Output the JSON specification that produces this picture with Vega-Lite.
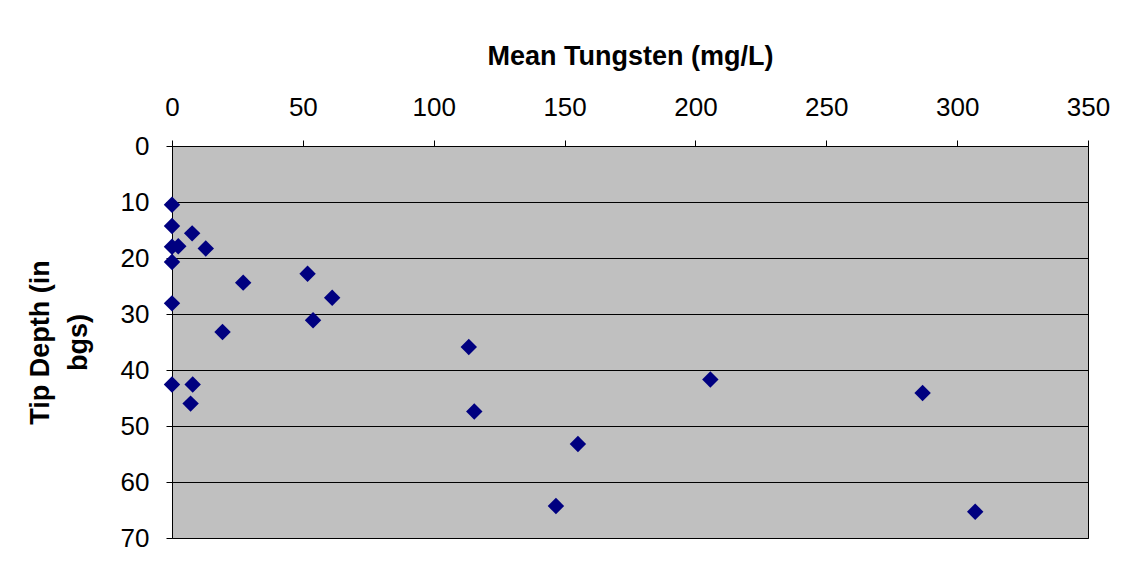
{
  "$schema": "https://vega.github.io/schema/vega-lite/v6.json",
  "width": 916,
  "height": 392,
  "autosize": "none",
  "padding": {"left": 172, "top": 146, "right": 39, "bottom": 40},
  "background": "white",
  "config": {
    "font": "Liberation Sans",
    "view": {"fill": "#C0C0C0", "stroke": "black", "strokeWidth": 1}
  },
  "data": {
    "values": [
      {"tungsten": 0, "depth": 10.5},
      {"tungsten": 0, "depth": 14.3},
      {"tungsten": 7.7, "depth": 15.6},
      {"tungsten": 0, "depth": 18.0},
      {"tungsten": 2.4, "depth": 17.9},
      {"tungsten": 12.9, "depth": 18.3},
      {"tungsten": 0, "depth": 20.7},
      {"tungsten": 27.2, "depth": 24.4},
      {"tungsten": 51.8, "depth": 22.8},
      {"tungsten": 0, "depth": 28.1},
      {"tungsten": 61.2, "depth": 27.1},
      {"tungsten": 53.9, "depth": 31.1},
      {"tungsten": 19.3, "depth": 33.2},
      {"tungsten": 0, "depth": 42.6},
      {"tungsten": 7.9, "depth": 42.6},
      {"tungsten": 7.1, "depth": 46.0},
      {"tungsten": 113.4, "depth": 35.9},
      {"tungsten": 115.5, "depth": 47.4},
      {"tungsten": 155.1, "depth": 53.2},
      {"tungsten": 146.7, "depth": 64.3},
      {"tungsten": 205.7, "depth": 41.7},
      {"tungsten": 286.8, "depth": 44.1},
      {"tungsten": 306.9, "depth": 65.3}
    ]
  },
  "mark": {"type": "point", "shape": "diamond", "filled": true, "color": "#000080", "opacity": 1, "size": 270, "clip": false},
  "encoding": {
    "x": {
      "field": "tungsten",
      "type": "quantitative",
      "scale": {"domain": [0, 350], "nice": false, "zero": false},
      "axis": {
        "orient": "top",
        "title": "Mean Tungsten (mg/L)",
        "titleFontSize": 27,
        "titleFontWeight": "bold",
        "titleColor": "black",
        "titlePadding": 24,
        "values": [0, 50, 100, 150, 200, 250, 300, 350],
        "labelFontSize": 26,
        "labelColor": "black",
        "labelPadding": 20,
        "labelFlush": false,
        "labelOverlap": false,
        "tickColor": "black",
        "tickSize": 6,
        "domain": false,
        "grid": false
      }
    },
    "y": {
      "field": "depth",
      "type": "quantitative",
      "scale": {"domain": [0, 70], "reverse": true, "nice": false, "zero": false},
      "axis": {
        "title": ["Tip Depth (in", "bgs)"],
        "titleFontSize": 27,
        "titleFontWeight": "bold",
        "titleColor": "black",
        "titleLineHeight": 38,
        "titlePadding": 28,
        "values": [0, 10, 20, 30, 40, 50, 60, 70],
        "labelFontSize": 26,
        "labelColor": "black",
        "labelPadding": 17,
        "labelFlush": false,
        "labelOverlap": false,
        "tickColor": "black",
        "tickSize": 6,
        "domain": false,
        "grid": true,
        "gridColor": "black",
        "gridOpacity": 1,
        "gridWidth": 1
      }
    }
  }
}
